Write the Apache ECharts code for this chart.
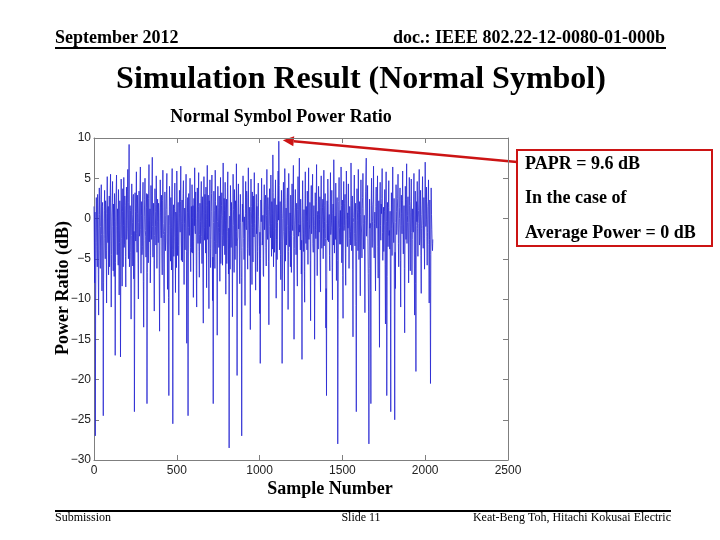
<!DOCTYPE html>
<html><head><meta charset="utf-8">
<script src="https://cdn.jsdelivr.net/npm/echarts@6/dist/echarts.min.js"></script>
<style>html,body{margin:0;padding:0;background:#fff}#c{width:720px;height:540px}</style>
</head><body><div id="c"></div>
<script>
// Power ratio (dB) at samples 0,4,8,...,2044
const ratioAtSample4k = [
1.5,-8,-27,-3,2.5,-6,0.5,-12,3.8,-4,-1,4.2,-9,2,-24.5,-2,
3.5,-5,1.2,-10.5,5.2,-3,-7,2.8,-1.5,5.5,-11,0.3,4.6,-6.5,-2,3.1,
-17,1.8,5.4,-4.5,-0.8,3.6,-9.5,2.2,-17.2,4.9,-2.5,0.9,-6,5.1,-3.2,1.6,
-8.5,3.9,-1.2,6.1,-5,9.2,-3.8,1,-12.5,4.3,-0.5,2.7,-7.5,-24,3.2,-2.8,
5.8,-4.2,0.6,-10,3.4,-1.8,6.4,-6.8,2.1,-3.5,4.5,-13.5,0.2,5,-2.2,1.4,
-23,3,-5.5,6.7,-0.3,-8,4.1,-2.6,7.6,-4.8,1.9,-11.5,3.7,-1,5.3,-6.2,
2.4,-3,0.8,-14,4.8,-1.5,2.9,-7,6,-2,-10.5,3.3,-4,1.1,5.6,-8.8,
0.4,-22,4,-3.3,2.6,-6.4,6.2,-25.5,1.7,-2.4,4.4,-9.2,0.1,5.9,-4.6,2,
-12,3.5,-1.7,6.5,-5.2,2.3,-0.6,4.7,-8.2,1.3,-3.7,5.5,-15.5,0.7,-24.5,3.1,
-2.1,5,-6.6,1.5,4.2,-4.3,-9.8,2.5,6.3,-1.9,0,-11,3.8,-3.1,5.7,-7.3,
1.9,-0.4,4.6,-5.6,2.7,-13,5.2,-2.7,0.6,3.9,-8.6,6.6,-1.3,-4.9,2.2,4.8,
-6.1,0.9,5.4,-10.2,-23,3.4,-2.9,6,-4.4,1.6,-14.5,4,-1.1,2.8,-7.8,5.1,
-0.2,3.2,-5.8,6.9,-3.4,1,4.5,-9.4,2.4,-1.6,5.8,-6.9,-28.5,0.3,4.1,-3.6,
2,-12.2,5.5,-0.9,3.6,-5.1,1.2,6.8,-19.5,-2.3,4.3,0.5,-8.1,3,-4,-27,
1.8,5.3,-2.5,0.2,-10.8,4.6,-1.4,2.6,-6.3,6.3,-3,1.4,-13.8,4.9,-0.7,3.3,
-5.4,0.8,5.7,-2,-8.9,3,1.5,-4.1,4.4,-1.2,-11.8,-18,2.3,5,-3.3,0.4,
-7.2,4.2,-0.1,2.9,-5.9,6.1,-2.6,1.1,-13.2,3.7,-1.8,5.4,-4.7,0.6,7.9,-6,
2.5,-2.4,4.8,-9.9,1.7,-0.5,5.9,9.6,-3.9,2.1,-7.6,3.5,-18,0,4.5,-2.8,
6.2,-5.3,1.3,-1,3.8,-11.3,5.6,-3.5,0.7,2.9,-6.7,4.3,-1.5,6.6,-15,-0.3,
3.6,-4.5,1.9,-8.4,5.2,-2.2,7.5,-0.8,2.4,-6.9,-17.5,4.7,-1.9,1.1,-10.4,5.8,
-3.1,0.2,3.4,-5.7,6.3,-1.4,2,-12.7,4.1,-0.6,5.5,-4.2,1.6,-15,3.2,-2.5,
6.7,-7.1,0.9,4,-1.7,2.7,-9.1,5.3,-3.7,1.4,-5,6,-0.4,3.1,-13.6,-22,
2.2,4.9,-2.9,0.5,-6.5,5.7,-1.1,3.5,-10.1,1.8,7.3,-4.3,0.3,4.4,-7.7,2.6,
-28,-1.3,5.1,-3.2,1,6.4,-5.5,2.3,-12.4,4.6,-0.9,3,-8.3,5.9,-2.3,0.7,
4.3,-6.2,1.5,-1.6,6.9,-4,2.8,-14.7,0.1,5.4,-3.4,1.9,-24,3.7,-0.2,6.1,
-5.1,2.1,-9.6,4.8,-1.8,1.2,5.6,-3.8,0.4,-11.7,3.3,7.5,-2.1,4.1,-6.8,-28,
2.4,-0.6,-23,5,-3.6,1.7,6.5,-4.9,0.8,-9,3.9,-1.2,5.3,-7.4,2.2,-16,
4.5,-2.7,0.6,6.2,-5.2,1.4,-0.9,3.6,-13.1,5.8,-22,2,-3.5,4.7,-1.5,0.9,
-24,3.2,-4.6,6.4,-0.7,2.5,-25,-8.7,4.2,-2,1.3,5.5,-6,0,3.8,-11,
2.9,-1.9,5.9,-4.4,1.6,-14.2,4,-2.6,6.8,-0.5,2.7,-8,5.1,-3,0.8,4.9,
-7,1.2,-1.7,5.6,-12,3.4,-19,2.1,4.6,-4.7,1,6.1,-2.4,3.5,-9.3,0.5,
5.2,-3.7,2.6,-6.3,7,-1,3.9,-5.8,1.5,4.8,-10.5,2.3,-20.5,3.8,-1.4,-4
];
// Power ratio (dB) at samples 2,6,10,...,2046
const ratioAtSample4kPlus2 = [
-4,0.8,-10,2.6,-3.5,3,-7,-1.2,0.5,-6.2,2.4,-2,1.5,-5,-8,1,
-2.5,2.2,-4,0.6,-1.8,1.5,-3.2,-6,3.2,-2.8,-4.5,2,-1,1.8,-7.2,-0.4,
-5.5,3.4,-1,1.2,-5.8,0.2,-3,-0.7,-6.4,1.3,-8.4,3.7,-0.9,-3.6,2.8,-4.7,
-0.3,-2.6,3.3,-1.4,2,-6,1.6,-4.2,-2.1,0.5,-5.9,3,-1.6,-9.5,0.9,1.9,
-1.9,2.9,-5.6,-0.5,-2.2,3.9,-1.4,0.4,-4.5,2.3,-7.8,-2.7,2.4,-1.5,-4.8,3.1,
-6.7,-0.2,2.5,-2.9,1.2,-4.6,-0.8,3.4,-1,0.3,-5.2,-2.1,0.9,-3.3,1.7,-0.4,
-1.2,1.9,-6.8,-3.4,0.8,-2.4,-4.4,2.2,-0.6,-8.5,-1.6,0.4,-2.7,3.6,-1.9,-3.8,
-9.8,-0.9,1.5,-5.3,-1.1,2.7,-3.9,-0.2,-4.7,1.2,-2.2,0.8,-6.1,1.9,-0.3,-3.4,
-1.6,0.6,2.1,-2.8,-0.4,-5.4,3.1,-1.8,-0.6,-3.9,2.5,-4.1,-2.3,2.6,-1.1,-0.8,
1.3,-3.6,-1.7,-4.2,0.1,1.6,-2.9,-0.9,-1.4,3.3,-6.5,-1.3,0.7,1.5,-4.1,-2,
-3.1,2.5,-2.2,-0.3,-7.9,0.8,-1.1,3,-4.3,-0.1,1.6,-2.6,2.9,-11.2,-1,-3.7,
-2.6,3.1,-1.8,-4.8,-0.5,1,-6.2,2.1,-0.7,-3.1,-0.4,1.4,-3.6,-1.7,0.5,-5.6,
1.6,-2.1,0.4,-1.3,2.5,-4.5,-0.2,1.3,-5.6,3.8,-2.5,-1.2,-3.8,-6.3,0.9,2,
-3.3,-0.8,1.1,-6.7,0.3,2.2,-3.4,-1.6,-2.8,1.9,-1.3,-4.9,0.7,-0.5,-7.3,-3.6,
-0.4,1.2,-5.1,-2.2,0.6,-0.9,3.4,-3.7,-1.5,-0.2,-4.6,-2,0.9,1.5,-8.2,-1.1,
2.8,-2.3,-0.6,-4.4,0.3,-1.9,-6.6,2,0.2,-3.5,-1.7,-5,-0.4,1.3,-2.7,-6.9,
0.6,-1.4,2.4,-3.6,0.4,-1.8,2.6,-5.3,-1,0.9,-2.4,-0.6,2.1,-3.8,3.2,-1.5,
-4.2,1.7,-1.2,-2.6,-5.1,2.8,-0.2,4.1,-1.3,-4.5,0.6,-2.9,-7.4,1.8,-1.6,-9,
1.9,-1.7,-3.3,2.6,-0.9,-4.1,0.3,-1.5,-6,0.5,-2.1,-0.8,3.1,-2.2,-3.7,1.4,
-0.8,-2.1,-5.8,1.1,-0.6,2.6,-1.7,-3.9,-0.2,-2.7,1.2,-0.5,-4.1,-6.6,0.8,-1.8,
1.5,-3.9,-0.4,2.2,-2.6,-0.8,-5.2,1.2,-1.9,2.7,-3.1,0.2,-0.9,-4.8,-1.4,2.1,
-1.5,0.5,-3.8,1.7,-0.1,-5.5,1.4,-2.3,-0.7,2.4,-1.2,-3.4,1.6,-2.5,-8.7,-0.6,
-2.7,1.9,-0.9,-4.6,1.3,-2,-0.3,-6.1,0.6,-3.3,2.3,-1.4,-2.6,0.9,-0.2,-5.2,
-12.5,2.1,-1.1,-0.3,-3.2,1.6,-2.4,-7.1,0.8,-1.5,1.9,-4.4,-0.1,2.3,-3.5,-1.2,
0.4,-2.5,-0.7,-3.3,2.2,-1.4,-6.3,-0.5,1.8,-1.9,-0.3,-10.8,-2.9,1.1,-4,0.7,
-1.8,-3.6,0.5,-0.8,-4.9,2.6,-0.6,-1.9,-5.4,-0.2,3.5,-2.2,0.3,-2.5,-11.6,-6.2,
-1.2,-8.9,1.6,-1.1,-0.4,2.3,-2.8,-0.6,-4.3,1.5,-0.8,1.9,-3.5,-1.3,-6.8,1.2,
-0.9,1.8,2.5,-1.7,-2.2,-4.1,0.9,-5.7,1.7,-0.4,-7.2,-1,1.4,-2.1,-3.8,-9.5,
-1.4,-1.2,1.8,-0.4,-3,-11.5,-4.2,-0.5,0.9,-1.3,2.5,-3.1,-1.8,1.4,-5.2,-0.9,
0.6,2.2,-1.6,-0.8,-6.2,-2.3,1.3,2.4,-3.1,0.4,-2.8,-0.5,1.6,-6.5,2.1,-1.7,
-2.6,-0.3,1.8,-4.9,-1.6,-8.1,-0.9,-0.4,-1.2,-0.6,2.8,-3.3,0.2,-4.6,-1.2,2.3,
-0.9,-0.8,-2.5,1.3,2.4,-0.1,-2.2,-1.7,2.1,-3.2,-2.6,-8.4,-4.5,0.5,-3.1,-2.6
];
const xTicks = [0, 500, 1000, 1500, 2000, 2500];
const yTicks = [-30, -25, -20, -15, -10, -5, 0, 5, 10];
const headerLeft = 'September 2012';
const headerRight = 'doc.: IEEE 802.22-12-0080-01-000b';
const slideTitle = 'Simulation Result (Normal Symbol)';
const chartTitle = 'Normal Symbol Power Ratio';
const xName = 'Sample Number';
const yName = 'Power Ratio (dB)';
const noteLines = ['PAPR = 9.6 dB', 'In the case of', 'Average Power = 0 dB'];
const footer = ['Submission', 'Slide 11', 'Keat-Beng Toh, Hitachi Kokusai Electric'];

// merge the two readings in sample order
const seriesData = [];
ratioAtSample4k.forEach((v, i) => {
  seriesData.push([i * 4, v]);
  seriesData.push([i * 4 + 2, ratioAtSample4kPlus2[i]]);
});

const serif = '"Liberation Serif", "Times New Roman", serif';
const sans = '"Liberation Sans", Arial, sans-serif';
const axisColor = '#7f7f7f';
const red = '#cc1414';

const chart = echarts.init(document.getElementById('c'), null, {renderer: 'canvas'});
const baseX = {
  type: 'value', min: xTicks[0], max: xTicks[xTicks.length - 1], interval: xTicks[1] - xTicks[0],
  splitLine: {show: false},
  axisLine: {onZero: false, lineStyle: {color: axisColor, width: 1}},
  axisTick: {inside: true, length: 5, lineStyle: {color: axisColor}}
};
const baseY = {
  type: 'value', min: yTicks[0], max: yTicks[yTicks.length - 1], interval: yTicks[1] - yTicks[0],
  splitLine: {show: false},
  axisLine: {onZero: false, lineStyle: {color: axisColor, width: 1}},
  axisTick: {inside: true, length: 5, lineStyle: {color: axisColor}}
};
chart.setOption({
  animation: false,
  backgroundColor: '#ffffff',
  grid: {left: 94, right: 212, top: 138, bottom: 80, containLabel: false},
  xAxis: [
    Object.assign({}, baseX, {position: 'bottom',
      axisLabel: {show: true, margin: 5, color: '#222', fontFamily: sans, fontSize: 12,
        formatter: v => String(v)}}),
    Object.assign({}, baseX, {position: 'top', axisLabel: {show: false}})
  ],
  yAxis: [
    Object.assign({}, baseY, {position: 'left',
      axisLabel: {show: true, margin: 3, color: '#222', fontFamily: sans, fontSize: 12,
        formatter: v => (v < 0 ? '\u2212' + Math.abs(v) : String(v))}}),
    Object.assign({}, baseY, {position: 'right', axisLabel: {show: false}})
  ],
  series: [{
    type: 'line', data: seriesData, showSymbol: false, symbol: 'none',
    xAxisIndex: 0, yAxisIndex: 0,
    lineStyle: {color: '#2626d2', width: 0.8}
  }]
});

// locate the PAPR peak through the axes for the arrow
let peak = seriesData[0];
seriesData.forEach(p => { if (p[1] > peak[1]) peak = p; });
const peakPx = chart.convertToPixel({gridIndex: 0}, peak);

const g = [];
g.push({type: 'text', left: 55, top: 29, style: {text: headerLeft, font: 'bold 18px ' + serif, fill: '#000'}});
g.push({type: 'text', right: 55, top: 29, style: {text: headerRight, font: 'bold 18px ' + serif, fill: '#000', textAlign: 'right'}});
g.push({type: 'line', shape: {x1: 55, y1: 48, x2: 666, y2: 48}, style: {stroke: '#000', lineWidth: 2}});
g.push({type: 'text', x: 361, y: 80, style: {text: slideTitle, font: 'bold 32px ' + serif, fill: '#000', textAlign: 'center', textVerticalAlign: 'middle'}});
g.push({type: 'text', x: 281, y: 117, style: {text: chartTitle, font: 'bold 18px ' + serif, fill: '#000', textAlign: 'center', textVerticalAlign: 'middle'}});
g.push({type: 'text', x: 330, y: 489, style: {text: xName, font: 'bold 18px ' + serif, fill: '#000', textAlign: 'center', textVerticalAlign: 'middle'}});
g.push({type: 'text', x: 63, y: 288, rotation: Math.PI / 2, style: {text: yName, font: 'bold 18px ' + serif, fill: '#000', textAlign: 'center', textVerticalAlign: 'middle'}});
// annotation box
g.push({type: 'rect', shape: {x: 517, y: 150, width: 195, height: 96}, style: {fill: 'none', stroke: red, lineWidth: 2}});
noteLines.forEach((t, i) => {
  g.push({type: 'text', x: 525, y: 164 + i * 34.5, style: {text: t, font: 'bold 18px ' + serif, fill: '#000', textVerticalAlign: 'middle'}});
});
// arrow from box to peak
const ax = peakPx[0] + 4, ay = peakPx[1] - 1;
const bx = 517, by = 162;
const ang = Math.atan2(ay - by, ax - bx);
const hl = 11, hw = 5;
const hx = ax - hl * Math.cos(ang), hy = ay - hl * Math.sin(ang);
g.push({type: 'line', shape: {x1: bx, y1: by, x2: hx, y2: hy}, style: {stroke: red, lineWidth: 2.5}});
g.push({type: 'polygon', shape: {points: [
  [ax, ay],
  [hx + hw * Math.sin(ang), hy - hw * Math.cos(ang)],
  [hx - hw * Math.sin(ang), hy + hw * Math.cos(ang)]
]}, style: {fill: red}});
// footer
g.push({type: 'line', shape: {x1: 55, y1: 511, x2: 671, y2: 511}, style: {stroke: '#000', lineWidth: 2}});
g.push({type: 'text', x: 55, y: 518, style: {text: footer[0], font: '12px ' + serif, fill: '#000', textVerticalAlign: 'middle'}});
g.push({type: 'text', x: 361, y: 518, style: {text: footer[1], font: '12px ' + serif, fill: '#000', textAlign: 'center', textVerticalAlign: 'middle'}});
g.push({type: 'text', x: 671, y: 518, style: {text: footer[2], font: '12px ' + serif, fill: '#000', textAlign: 'right', textVerticalAlign: 'middle'}});
chart.setOption({graphic: g});
</script>
</body></html>
